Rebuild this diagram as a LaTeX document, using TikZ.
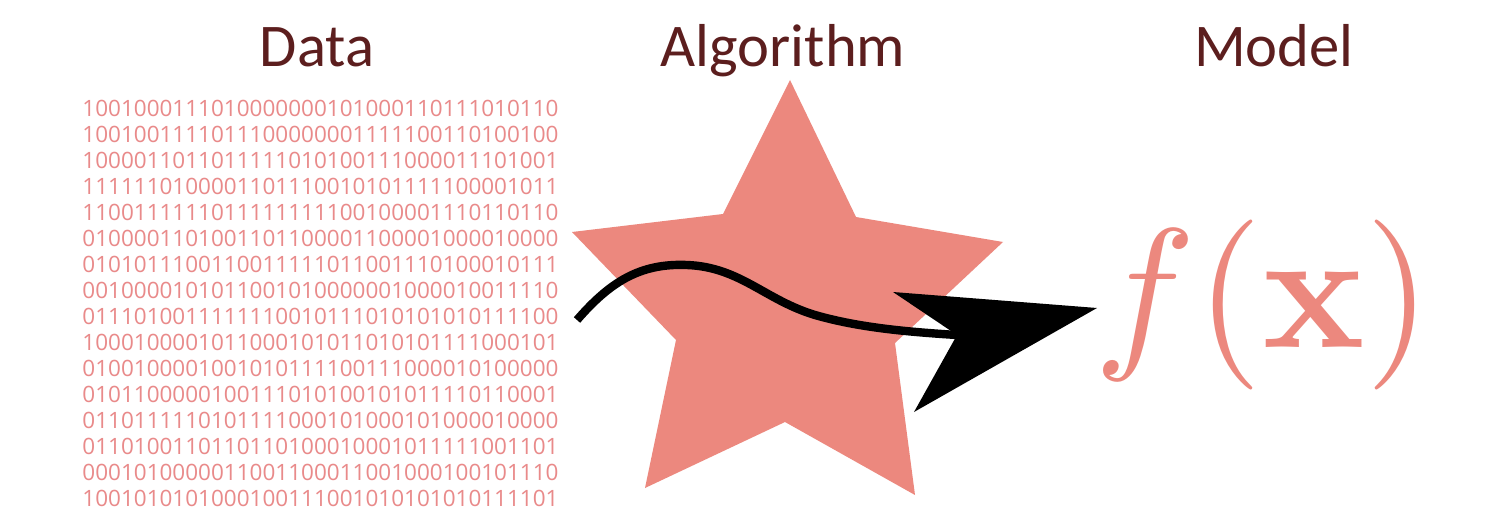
\documentclass[tikz,border=0pt]{standalone}
\usepackage[no-math]{fontspec}
\usepackage{graphicx}
\setmainfont{Carlito}
\newfontfamily\bitsfont{Open Sans}
\definecolor{starsalmon}{RGB}{236,136,126}
\definecolor{bitpink}{RGB}{233,138,138}
\definecolor{titlebrown}{RGB}{92,30,30}
\begin{document}
\begin{tikzpicture}[x=0.5pt,y=-0.5pt,
  titletext/.style={anchor=base, text=titlebrown, font=\fontsize{30.3}{36}\selectfont, inner sep=0pt},
  bitstext/.style={anchor=north west, align=left, text=bitpink, font=\bitsfont\fontsize{11.25}{13}\selectfont, inner sep=0pt},
  modeltext/.style={anchor=base, text=starsalmon, inner sep=0pt},
  starshape/.style={fill=starsalmon, draw=none},
  flowline/.style={line width=4.2pt, black, line cap=butt},
  flowhead/.style={fill=black, draw=none}]
\useasboundingbox[fill=white] (0,0) rectangle (1488,524);
\node[titletext] (data) at (317,67) {Data};
\node[titletext] (algo) at (783,67) {Algorithm};
\node[titletext] (model) at (1274,67) {Model};
\node[bitstext] (bits) at (82,100) {%
1001000111010000000101000110111010110\\
1001001111011100000001111100110100100\\
1000011011011111010100111000011101001\\
1111110100001101110010101111100001011\\
1100111111011111111100100001110110110\\
0100001101001101100001100001000010000\\
0101011100110011111011001110100010111\\
0010000101011001010000001000010011110\\
0111010011111110010111010101010111100\\
1000100001011000101011010101111000101\\
0100100001001010111100111000010100000\\
0101100000100111010100101011110110001\\
0110111110101111000101000101000010000\\
0110100110110110100010001011111001101\\
0001010000011001100011001000100101110\\
1001010101000100111001010101010111101};
% star
\fill[starshape] (790,80) -- (856,217) -- (1003,242) -- (895,343) -- (915,495)
  -- (785,422) -- (645,488) -- (676,340) -- (572,232) -- (723,214) -- cycle;
% function
\node[modeltext] (fx) at (1263,347) {\scalebox{8.5}{$f(\mathbf{x})$}};
% arrow
\coordinate (start) at (577,320);
\coordinate (notch) at (957,335);
\coordinate (tip) at (1097,308);
\draw[flowline] (start) .. controls (610,282) and (640,263) .. (687,265)
  .. controls (740,267) and (765,300) .. (815,315)
  .. controls (860,328) and (910,332) .. (notch);
\fill[flowhead] (893,292) -- (tip) -- (914,412) -- (notch) -- cycle;
\end{tikzpicture}
\end{document}
